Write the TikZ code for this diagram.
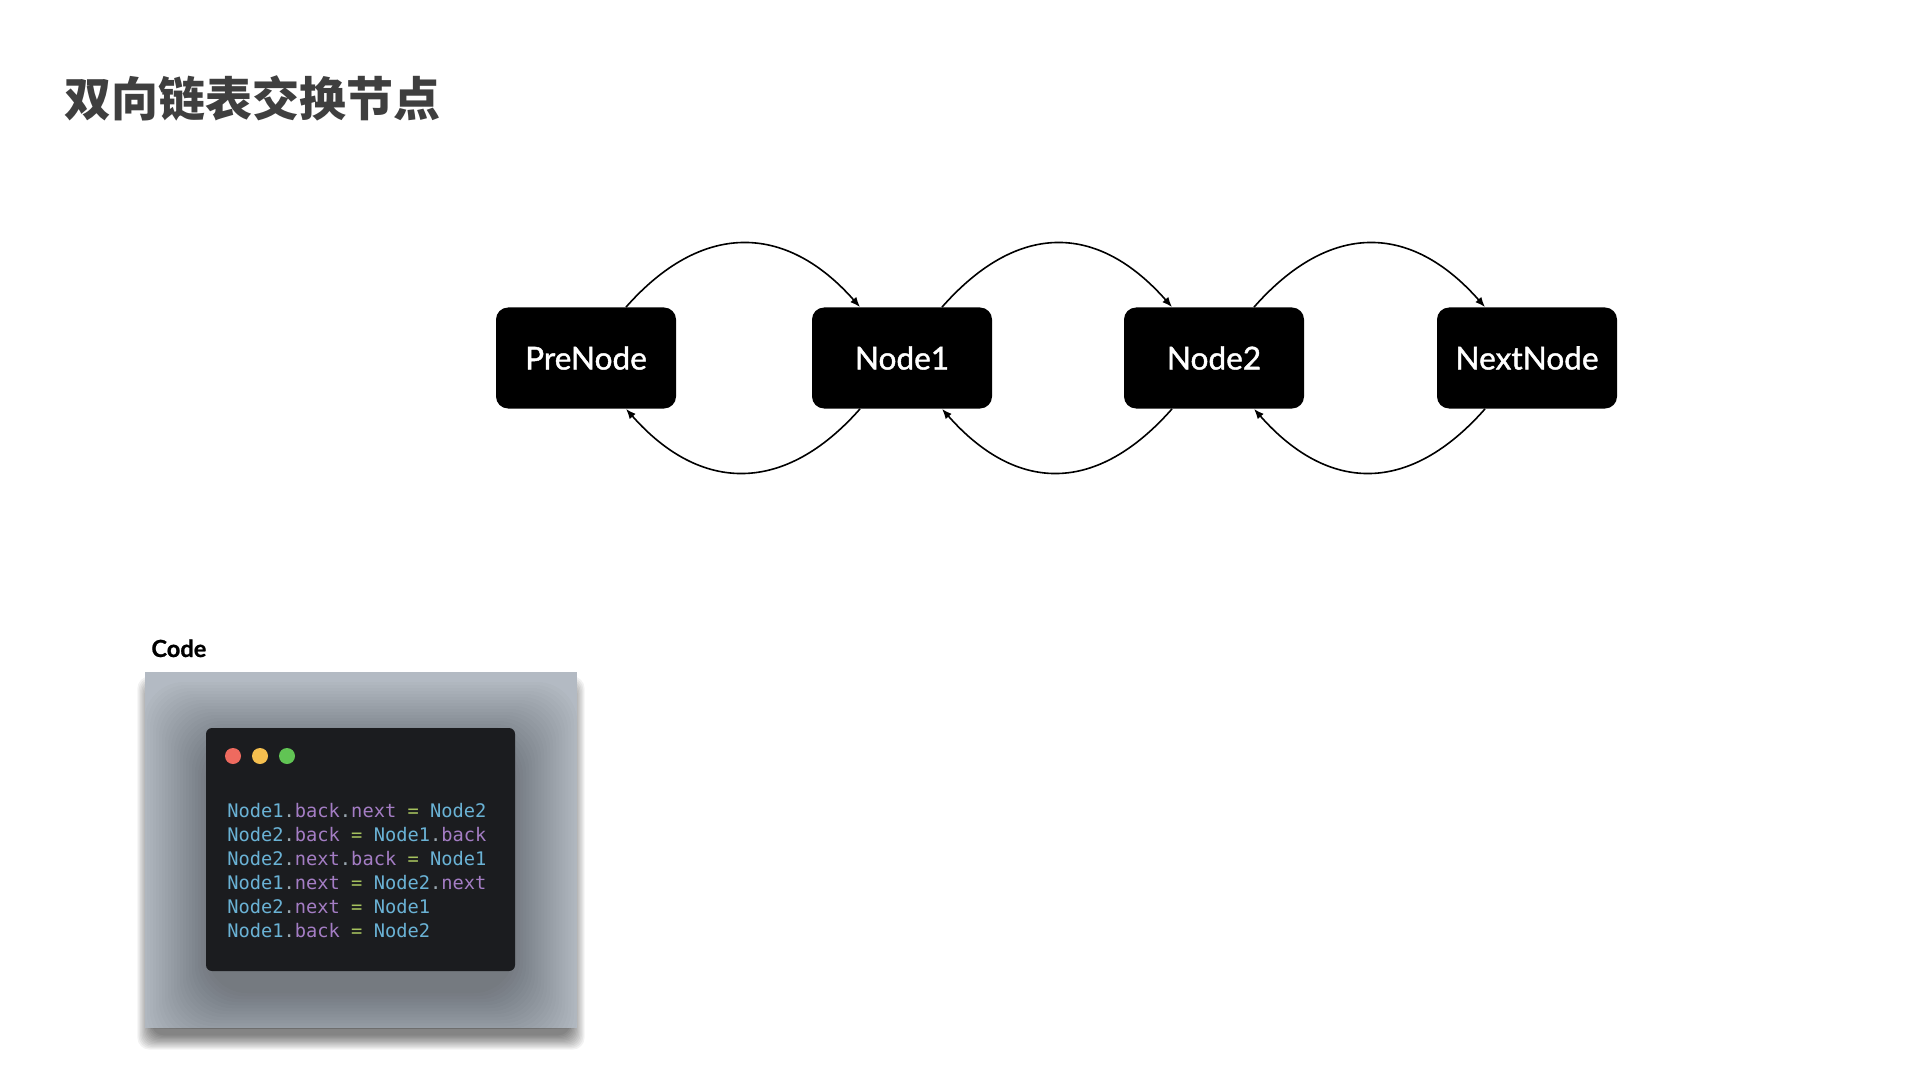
\documentclass[tikz,border=0pt]{standalone}
\usepackage{fontspec}
\usetikzlibrary{arrows.meta}
\newfontfamily\cjk{Noto Sans CJK SC}
\newfontfamily\latomed[FakeBold=1.3]{Lato}
\newfontfamily\latoheavy[FakeBold=0.8]{Lato Bold}
\newfontfamily\codefont{DejaVu Sans Mono}
\definecolor{titlegray}{HTML}{3F3F3F}
\definecolor{boxgray}{HTML}{B3BAC3}
\definecolor{winbg}{HTML}{1B1C1F}
\definecolor{cblue}{HTML}{6AB2D5}
\definecolor{cpurple}{HTML}{A47DC4}
\definecolor{cgreen}{HTML}{A6C25E}
\definecolor{cdot}{HTML}{9AA7B0}
\definecolor{dred}{HTML}{EE6A5F}
\definecolor{dyellow}{HTML}{F5BF4F}
\definecolor{dgreen}{HTML}{61C454}
\tikzset{
  llnode/.style={fill=black, rounded corners=6pt, minimum width=90pt, minimum height=50.5pt,
    inner sep=0pt, text=white, font=\latomed\fontsize{15.8}{18}\selectfont},
  link/.style={line width=0.8pt, -{Latex[length=5pt,width=4pt]}},
  codeline/.style={anchor=base west, inner sep=0pt, font=\codefont\fontsize{9.35}{12}\selectfont},
}
\newcommand{\cN}[1]{\textcolor{cblue}{#1}}
\newcommand{\cP}[1]{\textcolor{cpurple}{#1}}
\newcommand{\cD}{\textcolor{cdot}{.}}
\newcommand{\cE}{\textcolor{cgreen}{=}}
\begin{document}
\begin{tikzpicture}[x=0.5pt, y=-0.5pt]
\useasboundingbox[fill=white] (0,0) rectangle (1920,1080);

% title
\node[anchor=base west, inner sep=0pt, text=titlegray, font=\cjk\bfseries\fontsize{23.5}{28}\selectfont] (title) at (64,117) {双向链表交换节点};

% nodes
\node[llnode] (pre) at (586,358) {PreNode};
\node[llnode] (n1) at (902,358) {Node1};
\node[llnode] (n2) at (1214,358) {Node2};
\node[llnode] (nx) at (1527,358) {NextNode};

% connectors
\foreach \a/\b in {pre/n1, n1/n2, n2/nx}{
  \draw[link] ([xshift=20pt]\a.north) .. controls +(37.5pt,42.5pt) and +(-37.5pt,42.5pt) .. ([xshift=-21pt]\b.north);
  \draw[link] ([xshift=-21pt]\b.south) .. controls +(-37.5pt,-42.5pt) and +(37.5pt,-42.5pt) .. ([xshift=20pt]\a.south);
}

% code label
\node[anchor=base west, inner sep=0pt, font=\latoheavy\fontsize{11.8}{14}\selectfont] (codelabel) at (151,657) {Code};

% outer soft drop shadow of code card
\foreach \i in {1,...,12}{
  \fill[black, opacity=0.05, rounded corners=6pt] (153-\i*1.3, 692-\i*1.3) rectangle (569+\i*1.3, 1034+\i*1.3);
}
% code card
\begin{scope}
  \clip (145,672) rectangle (577,1028);
  \fill[boxgray] (145,672) rectangle (577,1028);
  \foreach \i in {1,...,22}{
    \fill[black, opacity=0.014, rounded corners=20pt] (210-\i*3, 748-\i*3) rectangle (511+\i*3, 990+\i*3);
  }
\end{scope}
\fill[winbg, rounded corners=3pt] (206,728) rectangle (515,971);
\fill[dred] (233,756) circle (8);
\fill[dyellow] (260,756) circle (8);
\fill[dgreen] (287,756) circle (8);

\node[codeline] (l1) at (227,817) {\cN{Node1}\cD\cP{back}\cD\cP{next} \cE{} \cN{Node2}};
\node[codeline] (l2) at (227,841) {\cN{Node2}\cD\cP{back} \cE{} \cN{Node1}\cD\cP{back}};
\node[codeline] (l3) at (227,865) {\cN{Node2}\cD\cP{next}\cD\cP{back} \cE{} \cN{Node1}};
\node[codeline] (l4) at (227,889) {\cN{Node1}\cD\cP{next} \cE{} \cN{Node2}\cD\cP{next}};
\node[codeline] (l5) at (227,913) {\cN{Node2}\cD\cP{next} \cE{} \cN{Node1}};
\node[codeline] (l6) at (227,937) {\cN{Node1}\cD\cP{back} \cE{} \cN{Node2}};
\end{tikzpicture}
\end{document}
